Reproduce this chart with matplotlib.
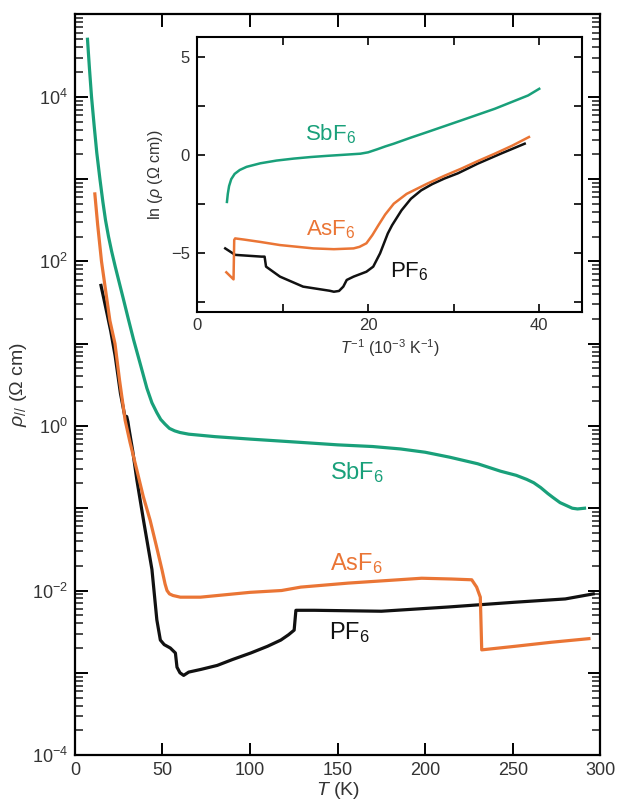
import matplotlib
matplotlib.use('Agg')
import matplotlib.pyplot as plt
import numpy as np
from matplotlib.ticker import (FixedLocator, FuncFormatter, LogLocator,
                               MultipleLocator, NullFormatter)

plt.rcParams['font.family'] = ['Liberation Sans', 'DejaVu Sans']
plt.rcParams['mathtext.fontset'] = 'custom'
plt.rcParams['mathtext.rm'] = 'Liberation Sans'
plt.rcParams['mathtext.it'] = 'Liberation Sans:italic'
plt.rcParams['mathtext.bf'] = 'Liberation Sans:bold'

GREEN = '#19a07a'
ORANGE = '#ea7535'
BLACK = '#111111'

# resistivity vs temperature (T in K, rho in ohm cm)
t_sbf6 = [7.2, 8.3, 9.5, 11, 12.5, 14.3, 16, 17.5, 19.2, 21, 23, 25, 27.6, 30.5,
          33.5, 37.5, 41.1, 44, 46.8, 49, 51.5, 54, 57, 60, 65, 70, 80, 100, 129,
          150, 170, 186, 200, 214, 230, 243, 252, 258, 262, 266, 270, 273, 277,
          281, 284, 287, 291]
rho_sbf6 = [5.0e4, 2.24e4, 1.0e4, 4.47e3, 2.09e3, 1.0e3, 525, 316, 200, 132,
            87.1, 58.9, 35.5, 20.0, 11.2, 5.5, 2.88, 1.91, 1.45, 1.2, 1.05,
            0.933, 0.871, 0.832, 0.794, 0.776, 0.741, 0.692, 0.631, 0.589, 0.562,
            0.525, 0.479, 0.417, 0.347, 0.282, 0.251, 0.224, 0.204, 0.178, 0.151,
            0.135, 0.117, 0.107, 0.1, 0.098, 0.1]

t_asf6 = [11.4, 13, 15.2, 17.5, 20, 22.9, 25.5, 28.7, 31.5, 35.4, 39, 43, 46.5, 49.7,
          51.5, 52.6, 54, 56, 60.2, 71.7, 100, 118, 129, 156, 198, 215, 226.6, 229.4,
          231.5, 232.3, 251.4, 272, 293.5]
rho_asf6 = [6.6e2, 2.8e2, 1.0e2, 4.5e1, 1.9e1, 1.0e1, 3.6, 1.17, 0.63, 0.29,
            0.14, 7.1e-2, 3.5e-2, 1.8e-2, 1.2e-2, 1.0e-2, 9.1e-3, 8.7e-3, 8.3e-3,
            8.3e-3, 9.5e-3, 1.0e-2, 1.1e-2, 1.23e-2, 1.41e-2, 1.38e-2, 1.35e-2,
            1.1e-2, 8.3e-3, 1.9e-3, 2.1e-3, 2.35e-3, 2.6e-3]

t_pf6 = [14.9, 16.5, 18.2, 20.5, 23, 26, 28.5, 29.6, 30.3, 30.8, 33, 35.4, 39.2, 44,
         46.8, 48.8, 51, 54.5, 57.4, 58.3, 60, 62.1, 65, 72, 81.3, 90, 100.4, 110,
         117.6, 122, 125.2, 126.2, 136.7, 175, 213, 251, 280, 296]
rho_pf6 = [51, 35.5, 24, 14.1, 7.1, 2.5, 1.32, 1.3, 1.12, 0.95, 0.5, 0.22, 7.1e-2,
           1.8e-2, 4.4e-3, 2.5e-3, 2.2e-3, 2.0e-3, 1.74e-3, 1.17e-3, 1.0e-3,
           9.3e-4, 1.02e-3, 1.1e-3, 1.23e-3, 1.45e-3, 1.74e-3, 2.1e-3, 2.5e-3,
           2.9e-3, 3.3e-3, 5.75e-3, 5.75e-3, 5.6e-3, 6.3e-3, 7.2e-3, 7.9e-3, 9.1e-3]

# Arrhenius plot: inverse temperature (1e-3 / K) vs ln(rho)
inv_sbf6 = [3.5, 3.6, 3.75, 4.0, 4.4, 5.0, 5.8, 7.4, 9.3, 11.3, 13.3, 15.2, 17.0,
            19.1, 20.0, 21.1, 22.0, 23.0, 25.0, 26.9, 30.9, 34.8, 38.7, 40.0]
ln_sbf6 = [-2.41, -2.0, -1.6, -1.25, -0.98, -0.78, -0.62, -0.44, -0.3, -0.2, -0.12,
           -0.06, -0.01, 0.05, 0.12, 0.28, 0.42, 0.56, 0.87, 1.15, 1.75, 2.34,
           3.02, 3.36]

inv_asf6 = [3.43, 4.27, 4.35, 4.46, 5.5, 7.4, 9.7, 13.6, 16.0, 18.3, 19.0, 19.8,
            20.5, 21.2, 22.0, 23.0, 24.5, 26.9, 28.9, 30.9, 32.8, 34.8, 36.8, 38.8]
ln_asf6 = [-6.0, -6.36, -4.35, -4.27, -4.33, -4.45, -4.61, -4.78, -4.82, -4.78,
           -4.7, -4.52, -4.1, -3.6, -3.05, -2.5, -2.0, -1.48, -1.08, -0.71, -0.33,
           0.05, 0.45, 0.9]

inv_pf6 = [3.3, 4.46, 7.54, 7.9, 8.07, 9.7, 12.4, 15.5, 16.0, 16.6, 17.1, 17.5, 18.3,
           19.8, 20.6, 21.4, 22.3, 22.8, 23.9, 25.0, 26.2, 27.5, 28.9, 30.5, 32.8,
           35.5, 38.3]
ln_pf6 = [-4.78, -5.11, -5.2, -5.2, -5.71, -6.22, -6.73, -6.94, -6.99, -6.95, -6.73,
          -6.39, -6.22, -5.97, -5.71, -5.03, -4.02, -3.6, -2.84, -2.25, -1.82, -1.5,
          -1.22, -0.95, -0.46, 0.05, 0.56]

fig = plt.figure(figsize=(6.24, 8.05), dpi=100)
ax = fig.add_axes([0.120, 0.062, 0.842, 0.920])

ax.plot(t_pf6, rho_pf6, color=BLACK, lw=2.3, zorder=2)
ax.plot(t_asf6, rho_asf6, color=ORANGE, lw=2.3, zorder=3)
ax.plot(t_sbf6, rho_sbf6, color=GREEN, lw=2.3, zorder=4)

ax.set_yscale('log')
ax.set_xlim(0, 300)
ax.set_ylim(1e-4, 1e5)
ax.yaxis.set_major_locator(LogLocator(base=10, numticks=20))
minor_pos = [m * 10.0 ** d for d in np.arange(-4, 5) for m in range(2, 10)]
ax.yaxis.set_minor_locator(FixedLocator(minor_pos))
ax.yaxis.set_major_formatter(FuncFormatter(
    lambda v, p: r'$10^{%d}$' % round(np.log10(v)) if round(np.log10(v)) % 2 == 0 else ''))
ax.yaxis.set_minor_formatter(NullFormatter())
ax.xaxis.set_major_locator(MultipleLocator(50))
ax.tick_params(which='major', direction='in', length=9, width=1.4, top=True, right=True,
               labelsize=13, labelcolor='#333333', pad=5)
ax.tick_params(axis='y', which='minor', direction='in', length=5.5, width=1.1,
               left=True, right=True, color='#1a1a1a')
for s in ax.spines.values():
    s.set_linewidth(1.6)

ax.set_xlabel(r'$T$ (K)', fontsize=14, color='#333333', labelpad=1)
ax.set_ylabel(r'$\rho_{//}$ (Ω cm)', fontsize=14, color='#333333', labelpad=2)

ax.text(161, 0.27, r'SbF$_6$', color=GREEN, fontsize=17, ha='center', va='center')
ax.text(161, 2.1e-2, r'AsF$_6$', color=ORANGE, fontsize=17, ha='center', va='center')
ax.text(157, 3.1e-3, r'PF$_6$', color=BLACK, fontsize=17, ha='center', va='center')

# inset
ins = fig.add_axes([0.3157, 0.613, 0.617, 0.341])
ins.plot(inv_pf6, ln_pf6, color=BLACK, lw=1.8, zorder=2)
ins.plot(inv_asf6, ln_asf6, color=ORANGE, lw=1.8, zorder=3)
ins.plot(inv_sbf6, ln_sbf6, color=GREEN, lw=1.8, zorder=4)
ins.set_xlim(0, 45)
ins.set_ylim(-8, 6)
ins.xaxis.set_major_locator(MultipleLocator(10))
ins.xaxis.set_major_formatter(FuncFormatter(lambda v, p: '%d' % v if v % 20 == 0 else ''))
ins.yaxis.set_major_locator(MultipleLocator(2.5))
ins.yaxis.set_major_formatter(FuncFormatter(
    lambda v, p: ('%d' % v).replace('-', '\u2212') if v % 5 == 0 else ''))
ins.tick_params(direction='in', length=6, width=1.2, top=True, right=True,
                labelsize=12, labelcolor='#333333', pad=5)
for s in ins.spines.values():
    s.set_linewidth(1.5)
ins.set_xlabel(r'$T^{-1}$ (10$^{-3}$ K$^{-1}$)', fontsize=11.5, color='#333333', labelpad=3)
ins.set_ylabel(r'ln ($\rho$ (Ω cm))', fontsize=11.5, color='#333333', labelpad=4)

ins.text(15.6, 1.05, r'SbF$_6$', color=GREEN, fontsize=16, ha='center', va='center')
ins.text(15.6, -3.85, r'AsF$_6$', color=ORANGE, fontsize=16, ha='center', va='center')
ins.text(24.8, -5.95, r'PF$_6$', color=BLACK, fontsize=16, ha='center', va='center')

fig.savefig('out.png', dpi=100)
